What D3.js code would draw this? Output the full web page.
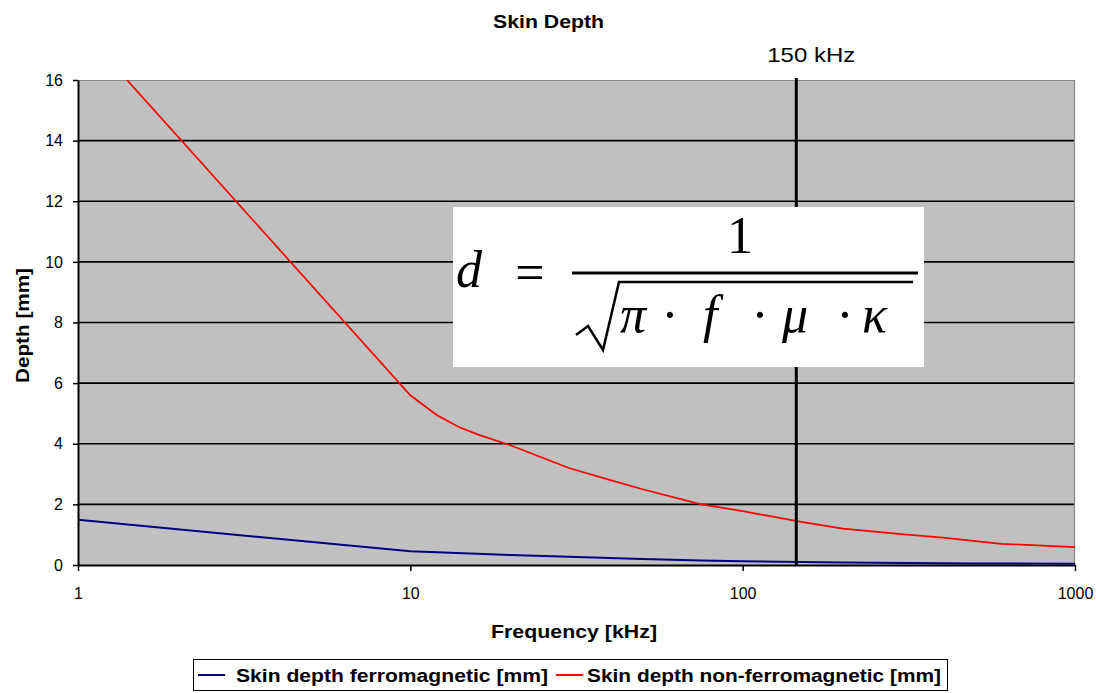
<!DOCTYPE html>
<html>
<head>
<meta charset="utf-8">
<script src="https://cdn.jsdelivr.net/npm/d3@7"></script>
<style>
  body { margin: 0; background: #fff; }
</style>
</head>
<body>
<div id="chart"></div>
<script>
// data
var freqFerro = [1, 10, 20, 30, 50, 75, 100, 200, 500, 1000];
var depthFerro = [1.49, 0.45, 0.33, 0.27, 0.2, 0.15, 0.12, 0.08, 0.05, 0.04];

var freqNonFerro = [1, 10, 12, 14, 16, 20, 30, 40, 50, 75, 100, 150, 200, 300, 400, 600, 800, 1000];
var depthNonFerro = [17.8, 5.6, 4.95, 4.55, 4.3, 3.95, 3.2, 2.8, 2.5, 2.0, 1.78, 1.42, 1.2, 1.02, 0.9, 0.7, 0.64, 0.59];

var xTicks = [1, 10, 100, 1000];
var yTicks = [0, 2, 4, 6, 8, 10, 12, 14, 16];
var seriesNames = ["Skin depth ferromagnetic [mm]", "Skin depth non-ferromagnetic [mm]"];
var markerFreq = 145;
var markerLabel = "150 kHz";

var svgWidth = 1096;
var svgHeight = 693;

var margin = { top: 80, right: 21, bottom: 128, left: 78 };
var width = svgWidth - margin.left - margin.right;
var height = svgHeight - margin.top - margin.bottom;

var sans = "\"Liberation Sans\", Arial, sans-serif";
var serif = "\"Liberation Serif\", \"Times New Roman\", serif";

var svg = d3.select("#chart")
  .append("svg")
  .attr("width", svgWidth)
  .attr("height", svgHeight)
  .attr("font-family", sans);

var chartGroup = svg.append("g")
  .attr("transform", `translate(${margin.left}, ${margin.top})`);

var xLogScale = d3.scaleLog().domain([1, 1000]).range([0, width]);
var yLinearScale = d3.scaleLinear().domain([0, 16]).range([height, 0]);

// plot area
chartGroup.append("rect")
  .attr("width", width)
  .attr("height", height)
  .attr("fill", "#c0c0c0");

svg.append("clipPath").attr("id", "plotClip")
  .append("rect").attr("width", width).attr("height", height);

// horizontal grid
chartGroup.selectAll(".grid")
  .data(yTicks.filter(d => d > 0 && d < 16))
  .enter()
  .append("line")
  .attr("x1", 0)
  .attr("x2", width)
  .attr("y1", d => yLinearScale(d))
  .attr("y2", d => yLinearScale(d))
  .attr("stroke", "#000")
  .attr("stroke-width", 1.6);

// border top / right
chartGroup.append("path")
  .attr("d", `M0,0.5H${width - 0.5}V${height}`)
  .attr("fill", "none")
  .attr("stroke", "#8a8a8a")
  .attr("stroke-width", 1.2);

// lines
var line = d3.line()
  .x(d => xLogScale(d[0]))
  .y(d => yLinearScale(d[1]));

var curves = chartGroup.append("g").attr("clip-path", "url(#plotClip)");

curves.append("path")
  .datum(d3.zip(freqNonFerro, depthNonFerro))
  .attr("d", line)
  .attr("fill", "none")
  .attr("stroke", "#ff0000")
  .attr("stroke-width", 1.7);

curves.append("path")
  .datum(d3.zip(freqFerro, depthFerro))
  .attr("d", line)
  .attr("fill", "none")
  .attr("stroke", "#000080")
  .attr("stroke-width", 2);

// 150 kHz marker
chartGroup.append("line")
  .attr("x1", xLogScale(markerFreq))
  .attr("x2", xLogScale(markerFreq))
  .attr("y1", -2)
  .attr("y2", height)
  .attr("stroke", "#000")
  .attr("stroke-width", 3);

chartGroup.append("text")
  .attr("x", xLogScale(markerFreq) - 29)
  .attr("y", -18)
  .attr("font-size", "21px")
  .attr("textLength", 88)
  .attr("lengthAdjust", "spacingAndGlyphs")
  .text(markerLabel);

// axes
var bottomAxis = d3.axisBottom(xLogScale)
  .tickValues(xTicks)
  .tickFormat(d3.format("d"))
  .tickSize(6)
  .tickSizeOuter(0)
  .tickPadding(17);

var leftAxis = d3.axisLeft(yLinearScale)
  .tickValues(yTicks)
  .tickSize(5)
  .tickSizeOuter(0)
  .tickPadding(10);

var xAxisG = chartGroup.append("g")
  .attr("transform", `translate(0, ${height})`)
  .call(bottomAxis);

var yAxisG = chartGroup.append("g")
  .call(leftAxis);

[xAxisG, yAxisG].forEach(function(g) {
  g.attr("font-family", sans).attr("font-size", "16px");
  g.select(".domain").attr("stroke", "#000").attr("stroke-width", 2);
  g.selectAll(".tick line").attr("stroke", "#000").attr("stroke-width", 1.5);
  g.selectAll(".tick text").attr("fill", "#000");
});

// formula box
var fx = svg.append("g");
fx.append("rect")
  .attr("x", 453).attr("y", 207)
  .attr("width", 471).attr("height", 160)
  .attr("fill", "#fff");

function sym(x, y, s, italic, anchor) {
  fx.append("text")
    .attr("x", x).attr("y", y)
    .attr("font-family", serif)
    .attr("font-size", "52px")
    .attr("font-style", italic ? "italic" : "normal")
    .attr("text-anchor", anchor || "start")
    .text(s);
}
sym(456, 287, "d", true);
sym(530, 290, "=", false, "middle");
sym(740, 253, "1", false, "middle");
fx.append("line")
  .attr("x1", 572).attr("x2", 918)
  .attr("y1", 273).attr("y2", 273)
  .attr("stroke", "#000").attr("stroke-width", 3);
fx.append("path")
  .attr("d", "M576,335L588,326L603,350L619,282L913,282")
  .attr("fill", "none")
  .attr("stroke", "#000")
  .attr("stroke-width", 2.5);
sym(620, 332, "\u03c0", true);
sym(670, 332, "\u00b7", false, "middle");
sym(703, 332, "f", true);
sym(760, 332, "\u00b7", false, "middle");
sym(782, 332, "\u03bc", true);
sym(845, 332, "\u00b7", false, "middle");
sym(862, 332, "\u03ba", true);

// titles
svg.append("text")
  .attr("x", 493).attr("y", 28)
  .attr("font-size", "18px")
  .attr("font-weight", "bold")
  .attr("textLength", 111)
  .attr("lengthAdjust", "spacingAndGlyphs")
  .text("Skin Depth");

svg.append("text")
  .attr("x", 491).attr("y", 638)
  .attr("font-size", "18px")
  .attr("font-weight", "bold")
  .attr("textLength", 166)
  .attr("lengthAdjust", "spacingAndGlyphs")
  .text("Frequency [kHz]");

svg.append("text")
  .attr("transform", "translate(29, 383) rotate(-90)")
  .attr("font-size", "18px")
  .attr("font-weight", "bold")
  .attr("textLength", 115)
  .attr("lengthAdjust", "spacingAndGlyphs")
  .text("Depth [mm]");

// legend
var legend = svg.append("g");
legend.append("rect")
  .attr("x", 193.5).attr("y", 659.5)
  .attr("width", 754).attr("height", 31)
  .attr("fill", "#fff")
  .attr("stroke", "#000")
  .attr("stroke-width", 1);

var legendItems = [
  { name: seriesNames[0], color: "#000080", lx: 198, tx: 236, tw: 312 },
  { name: seriesNames[1], color: "#ff0000", lx: 556, tx: 587, tw: 354 }
];
legendItems.forEach(function(item) {
  legend.append("line")
    .attr("x1", item.lx).attr("x2", item.lx + 27)
    .attr("y1", 675).attr("y2", 675)
    .attr("stroke", item.color)
    .attr("stroke-width", 2);
  legend.append("text")
    .attr("x", item.tx).attr("y", 682)
    .attr("font-size", "18px")
    .attr("font-weight", "bold")
    .attr("textLength", item.tw)
    .attr("lengthAdjust", "spacingAndGlyphs")
    .text(item.name);
});
</script>
</body>
</html>
